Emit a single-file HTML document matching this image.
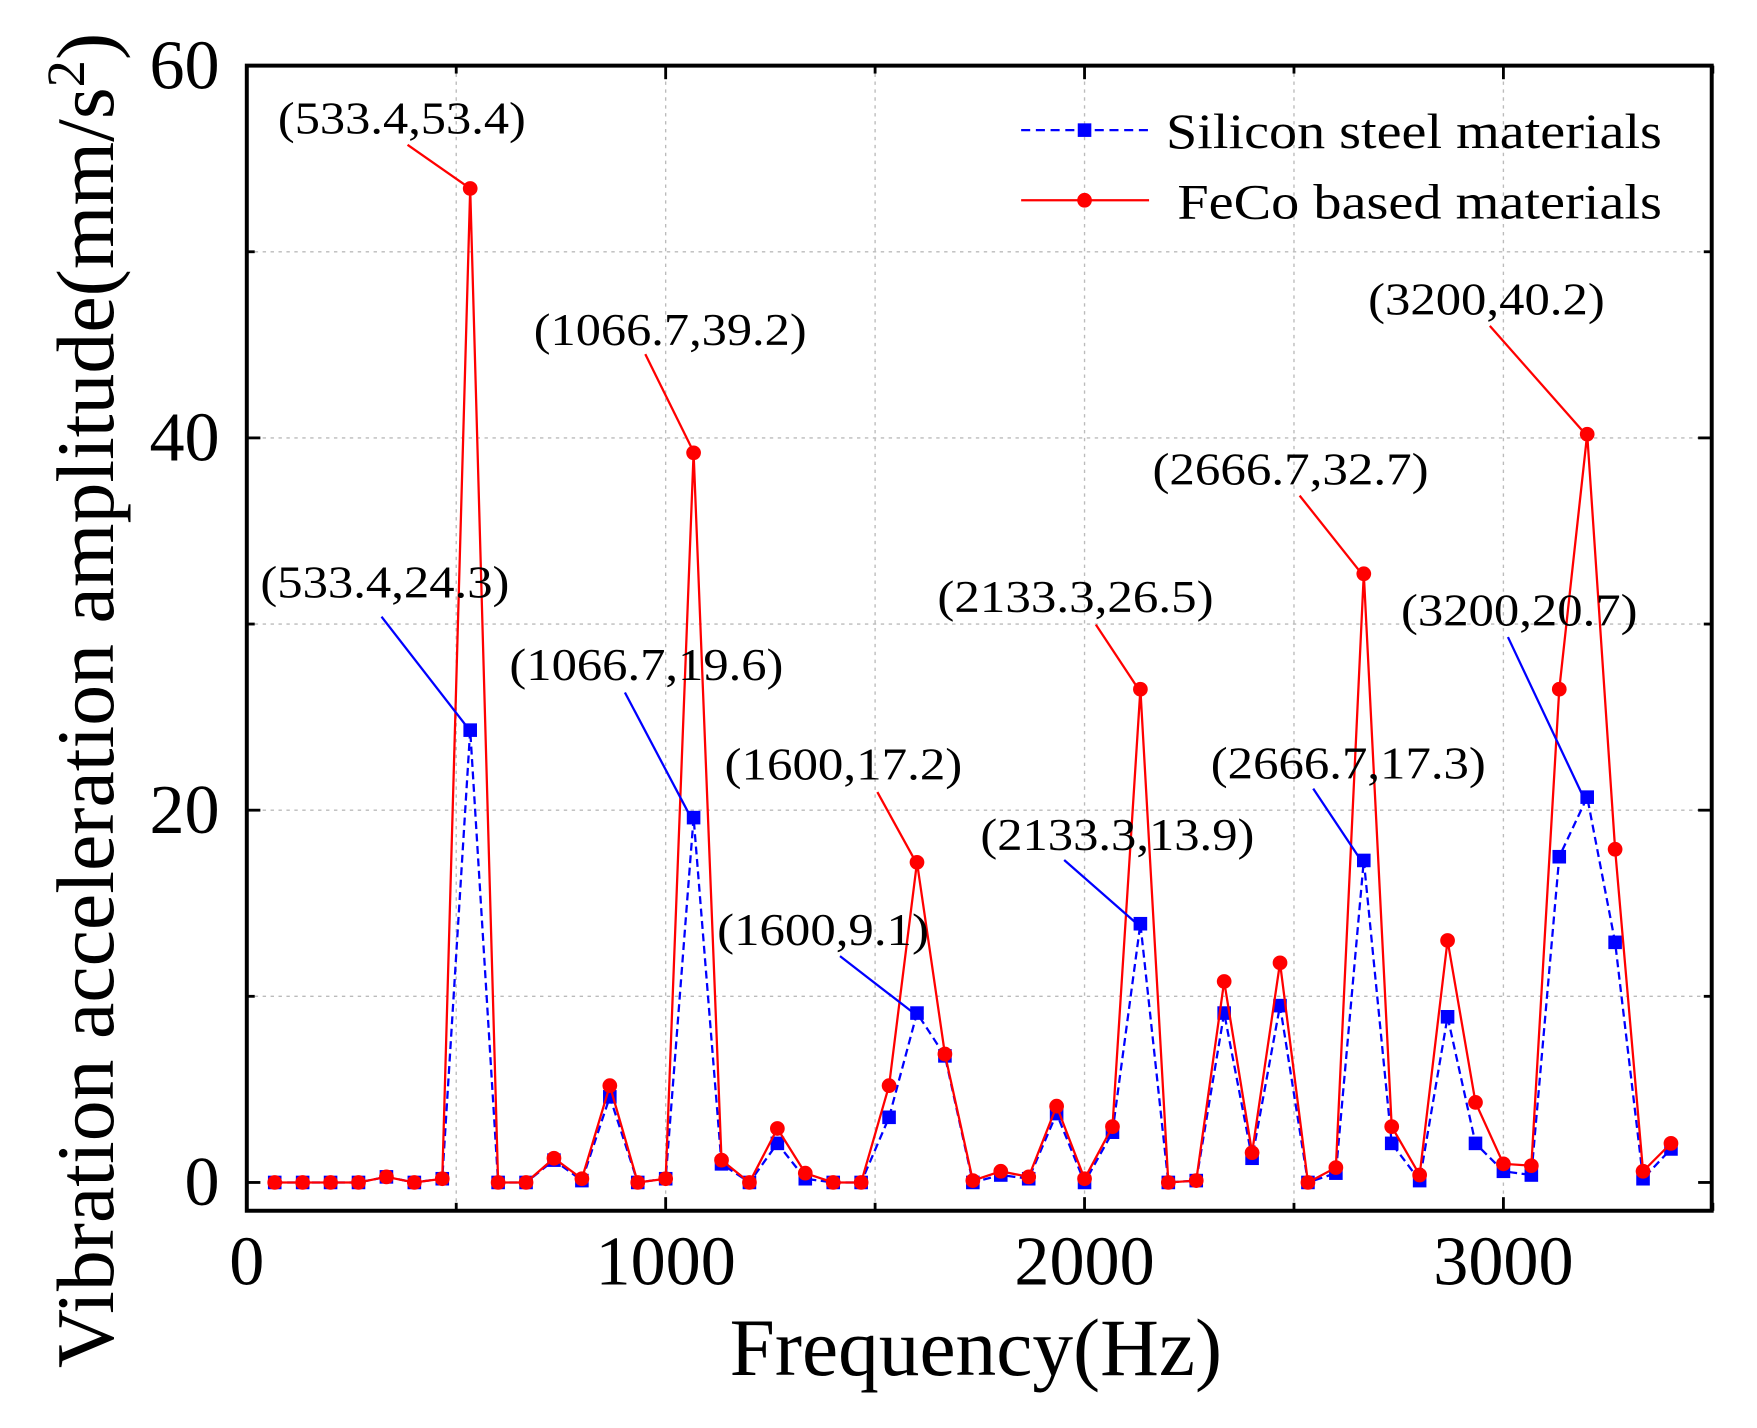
<!DOCTYPE html>
<html><head><meta charset="utf-8"><style>
html,body{margin:0;padding:0;background:#fff;}
svg{display:block;font-family:"Liberation Serif",serif;}
</style></head><body>
<svg id="s" width="1757" height="1428" viewBox="0 0 1552 1262" preserveAspectRatio="none" xmlns="http://www.w3.org/2000/svg">
<rect width="1552" height="1262" fill="#fff"/>
<g id="grid" stroke="#bbb" stroke-width="1.2" stroke-dasharray="3,4"></g>
<rect x="218" y="58" width="1294" height="1012" fill="none" stroke="#000" stroke-width="3.5"/>
<g id="ticks" stroke="#000" stroke-width="2.5"></g>
<g id="lbl" font-size="62" fill="#000"></g>
<g id="ser"></g>
<g id="ann" font-size="40"></g>
<text x="862" y="1215" font-size="72" text-anchor="middle" textLength="435" lengthAdjust="spacingAndGlyphs">Frequency(Hz)</text>
<text transform="translate(100,619) rotate(-90)" font-size="72" text-anchor="middle" textLength="1180" lengthAdjust="spacingAndGlyphs">Vibration acceleration amplitude(mm/s<tspan font-size="48" dy="-26">2</tspan><tspan dy="26">)</tspan></text>
<g>
<line x1="902" y1="115" x2="1015" y2="115" stroke="#00f" stroke-width="2" stroke-dasharray="8,5"/>
<rect x="952" y="109" width="12" height="12" fill="#00f"/>
<text x="1030" y="131" font-size="44" textLength="438" lengthAdjust="spacingAndGlyphs">Silicon steel materials</text>
<line x1="902" y1="177" x2="1015" y2="177" stroke="#f00" stroke-width="2"/>
<circle cx="958" cy="177" r="6.5" fill="#f00"/>
<text x="1040" y="193" font-size="44" textLength="428" lengthAdjust="spacingAndGlyphs">FeCo based materials</text>
</g>
</svg>
<script>
var NS="http://www.w3.org/2000/svg";
function el(p,t,a,txt){var e=document.createElementNS(NS,t);for(var k in a)e.setAttribute(k,a[k]);if(txt!=null)e.textContent=txt;document.getElementById(p).appendChild(e);return e;}
function X(f){return 218+f*0.37;}
function Y(v){return 1045-v*(987/60);}
for(var f=500;f<3500;f+=500){el("grid","line",{x1:X(f),x2:X(f),y1:58,y2:1070});}
for(var v=10;v<60;v+=10){el("grid","line",{x1:218,x2:1512,y1:Y(v),y2:Y(v)});}
for(var f=0;f<=3500;f+=500){var L=f%1000==0?12:7;el("ticks","line",{x1:X(f),x2:X(f),y1:1070,y2:1070-L});el("ticks","line",{x1:X(f),x2:X(f),y1:58,y2:58+L});}
for(var v=0;v<=60;v+=10){var L=v%20==0?12:7;el("ticks","line",{x1:218,x2:218+L,y1:Y(v),y2:Y(v)});el("ticks","line",{x1:1512-L,x2:1512,y1:Y(v),y2:Y(v)});}
[0,1000,2000,3000].forEach(function(f){el("lbl","text",{x:X(f),y:1135,"text-anchor":"middle"},f);});
[0,20,40,60].forEach(function(v){el("lbl","text",{x:194,y:Y(v)+20,"text-anchor":"end"},v);});
var fe=[0,0,0,0,0.3,0,0.2,53.4,0,0,1.3,0.2,5.2,0,0.2,39.2,1.2,0,2.9,0.5,0,0,5.2,17.2,6.9,0.1,0.6,0.3,4.1,0.2,3,26.5,0,0.1,10.8,1.6,11.8,0,0.8,32.7,3,0.4,13,4.3,1,0.9,26.5,40.2,17.9,0.6,2.1];
var si=[0,0,0,0,0.3,0,0.2,24.3,0,0,1.2,0.1,4.6,0,0.2,19.6,1,0,2.1,0.2,0,0,3.5,9.1,6.8,0,0.4,0.2,3.7,0,2.7,13.9,0,0.1,9.1,1.3,9.5,0,0.5,17.3,2.1,0.1,8.9,2.1,0.6,0.4,17.5,20.7,12.9,0.2,1.8];
function pts(a){return a.map(function(v,i){return X((i+1)*66.667)+","+Y(v);}).join(" ");}
el("ser","polyline",{points:pts(si),fill:"none",stroke:"#00f","stroke-width":2,"stroke-dasharray":"7,4"});
si.forEach(function(v,i){el("ser","rect",{x:X((i+1)*66.667)-6,y:Y(v)-6,width:12,height:12,fill:"#00f"});});
el("ser","polyline",{points:pts(fe),fill:"none",stroke:"#f00","stroke-width":2});
fe.forEach(function(v,i){el("ser","circle",{cx:X((i+1)*66.667),cy:Y(v),r:6.5,fill:"#f00"});});
var A=[["(533.4,53.4)",355,105,360,128,413,165,"#f00",219],["(1066.7,39.2)",592,292,570,313,612,398,"#f00",241],["(533.4,24.3)",340,515,337,545,413,643,"#00f",220],["(1066.7,19.6)",571,588,552,612,609,720,"#00f",242],["(1600,17.2)",745,676,775,700,808,760,"#f00",210],["(1600,9.1)",727,822,742,845,808,896,"#00f",187],["(2133.3,26.5)",950,528,968,552,1005,608,"#f00",244],["(2133.3,13.9)",987,738,940,760,1005,817,"#00f",242],["(2666.7,32.7)",1140,415,1148,438,1202,506,"#f00",244],["(2666.7,17.3)",1191,675,1160,697,1202,760,"#00f",243],["(3200,40.2)",1313,265,1316,288,1399,382,"#f00",209],["(3200,20.7)",1342,540,1332,563,1398,703,"#00f",209]];
A.forEach(function(a){el("ann","line",{x1:a[3],y1:a[4],x2:a[5],y2:a[6],stroke:a[7],"stroke-width":2});el("ann","text",{x:a[1],y:a[2]+13,"text-anchor":"middle",textLength:a[8],lengthAdjust:"spacingAndGlyphs"},a[0]);});
</script>
</body></html>
